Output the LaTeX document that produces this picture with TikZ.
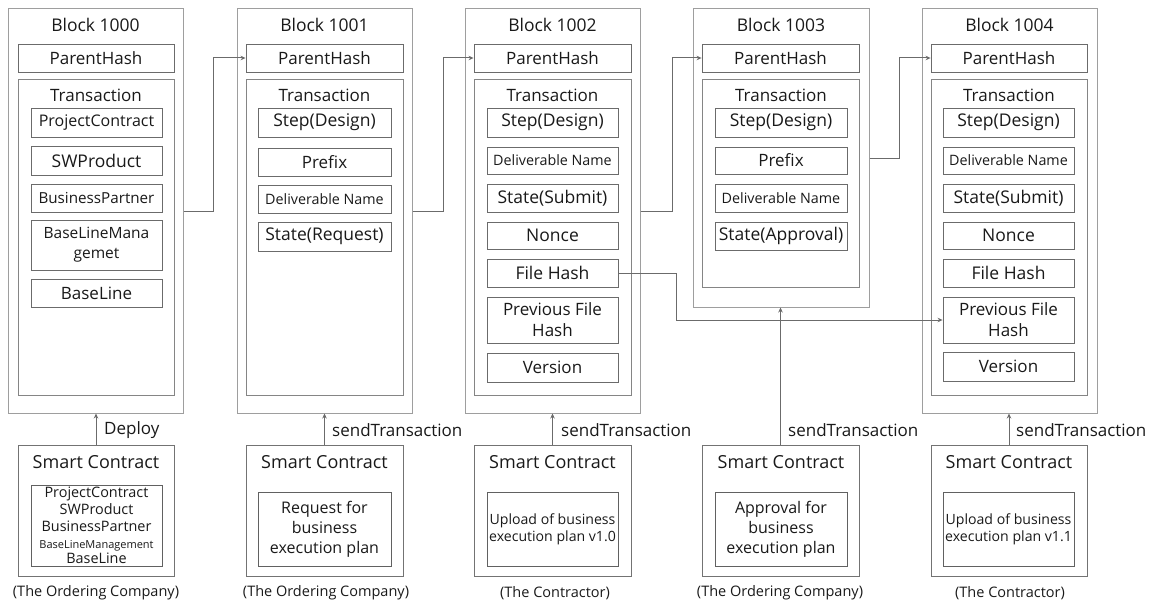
\documentclass[tikz,border=0pt]{standalone}
\usepackage{fontspec}
\setmainfont{Open Sans}
\usetikzlibrary{arrows.meta,calc}
\newcommand{\mkbox}[7]{\node[#6, minimum width={(#4-#2)*1pt}, minimum height={(#5-#3)*1pt}] (#1) at ({(#2+#4)/2},{(#3+#5)/2}) {#7};}
\newcommand{\fsz}[2]{\fontsize{#1}{#2}\selectfont}
\begin{document}
\begin{tikzpicture}[x=1pt,y=-1pt,
 every node/.style={font=\fsz{17}{20}, text=black!90},
 outerbox/.style={draw=black!38, line width=1pt, inner sep=0pt},
 tbox/.style={draw=black!48, line width=1pt, inner sep=0pt},
 itembox/.style={draw=black!58, line width=0.9pt, inner sep=0pt, align=center},
 scbox/.style={draw=black!55, line width=1pt, inner sep=0pt},
 scin/.style={draw=black!62, line width=0.9pt, inner sep=0pt, align=center},
 lbl/.style={inner sep=0pt, align=center},
 conn/.style={draw=black!58, line width=1pt},
 arr/.style={conn, -{Stealth[length=5pt,width=4.5pt]}}]
\useasboundingbox (0,0) rectangle (1158,602);

% ---------------- Block 1000
\mkbox{b0}{8}{9}{183}{413}{outerbox}{}
\node[lbl, font=\fsz{17.5}{20}] (b0t) at (95.5,25) {Block 1000};
\mkbox{b0p}{18}{44}{174}{72}{itembox}{ParentHash}
\mkbox{b0x}{18}{79}{174}{395}{tbox}{}
\node[lbl] (b0xt) at (96,95) {Transaction};
\mkbox{b0i1}{31}{108}{162}{137}{itembox,font=\fsz{16}{18}}{ProjectContract}
\mkbox{b0i2}{31}{146}{162}{175}{itembox,font=\fsz{17.5}{20}}{SWProduct}
\mkbox{b0i3}{31}{184}{162}{212}{itembox,font=\fsz{15.2}{18}}{BusinessPartner}
\mkbox{b0i4}{31}{220}{162}{270}{itembox,font=\fsz{15.5}{20}}{BaseLineMana\\gemet}
\mkbox{b0i5}{31}{279}{162}{307}{itembox}{BaseLine}

% ---------------- Block 1001
\mkbox{b1}{237}{9}{412}{413}{outerbox}{}
\node[lbl, font=\fsz{17.5}{20}] (b1t) at (324.5,25) {Block 1001};
\mkbox{b1p}{246}{44}{403}{72}{itembox}{ParentHash}
\mkbox{b1x}{246}{79}{403}{395}{tbox}{}
\node[lbl] (b1xt) at (324.5,95) {Transaction};
\mkbox{b1i1}{258}{108}{391}{137}{itembox,font=\fsz{17.5}{20}}{Step(Design)}
\mkbox{b1i2}{258}{148}{391}{176}{itembox}{Prefix}
\mkbox{b1i3}{258}{185}{391}{213}{itembox,font=\fsz{14.3}{16}}{Deliverable Name}
\mkbox{b1i4}{258}{222}{391}{251}{itembox,font=\fsz{17.5}{20}}{State(Request)}

% ---------------- Block 1002
\mkbox{b2}{465}{9}{640}{413}{outerbox}{}
\node[lbl, font=\fsz{17.5}{20}] (b2t) at (552.5,25) {Block 1002};
\mkbox{b2p}{474}{44}{631}{72}{itembox}{ParentHash}
\mkbox{b2x}{474}{79}{631}{395}{tbox}{}
\node[lbl] (b2xt) at (552.5,95) {Transaction};
\mkbox{b2i1}{487}{108}{618}{137}{itembox,font=\fsz{17.5}{20}}{Step(Design)}
\mkbox{b2i2}{487}{147}{618}{174}{itembox,font=\fsz{14.3}{16}}{Deliverable Name}
\mkbox{b2i3}{487}{184}{618}{212}{itembox,font=\fsz{17.5}{20}}{State(Submit)}
\mkbox{b2i4}{487}{222}{618}{249}{itembox,font=\fsz{17.5}{20}}{Nonce}
\mkbox{b2i5}{487}{259}{618}{287}{itembox,font=\fsz{17.5}{20}}{File Hash}
\mkbox{b2i6}{487}{297}{618}{343}{itembox,font=\fsz{17}{21}}{Previous File\\Hash}
\mkbox{b2i7}{487}{353}{618}{382}{itembox}{Version}

% ---------------- Block 1003
\mkbox{b3}{693}{9}{869}{307}{outerbox}{}
\node[lbl, font=\fsz{17.5}{20}] (b3t) at (781,25) {Block 1003};
\mkbox{b3p}{702}{44}{859}{72}{itembox}{ParentHash}
\mkbox{b3x}{702}{79}{859}{287}{tbox}{}
\node[lbl] (b3xt) at (781,95) {Transaction};
\mkbox{b3i1}{715}{108}{847}{137}{itembox,font=\fsz{17.5}{20}}{Step(Design)}
\mkbox{b3i2}{715}{147}{847}{174}{itembox}{Prefix}
\mkbox{b3i3}{715}{184}{847}{212}{itembox,font=\fsz{14.3}{16}}{Deliverable Name}
\mkbox{b3i4}{715}{222}{847}{250}{itembox,font=\fsz{17.5}{20}}{State(Approval)}

% ---------------- Block 1004
\mkbox{b4}{922}{9}{1097}{413}{outerbox}{}
\node[lbl, font=\fsz{17.5}{20}] (b4t) at (1009.5,25) {Block 1004};
\mkbox{b4p}{931}{44}{1087}{72}{itembox}{ParentHash}
\mkbox{b4x}{931}{79}{1087}{395}{tbox}{}
\node[lbl] (b4xt) at (1009,95) {Transaction};
\mkbox{b4i1}{943}{108}{1074}{137}{itembox,font=\fsz{17.5}{20}}{Step(Design)}
\mkbox{b4i2}{943}{147}{1074}{174}{itembox,font=\fsz{14.3}{16}}{Deliverable Name}
\mkbox{b4i3}{943}{184}{1074}{212}{itembox,font=\fsz{17.5}{20}}{State(Submit)}
\mkbox{b4i4}{943}{222}{1074}{249}{itembox,font=\fsz{17.5}{20}}{Nonce}
\mkbox{b4i5}{943}{259}{1074}{287}{itembox,font=\fsz{17.5}{20}}{File Hash}
\mkbox{b4i6}{943}{297}{1074}{343}{itembox,font=\fsz{17}{21}}{Previous File\\Hash}
\mkbox{b4i7}{943}{352}{1074}{381}{itembox}{Version}

% ---------------- Smart contracts
\mkbox{s0}{18}{445}{174}{576}{scbox}{}
\node[lbl, font=\fsz{18}{20}] (s0t) at (96,462) {Smart Contract};
\mkbox{s0i}{31}{485}{162}{566}{scin,font=\fsz{14.4}{17}}{ProjectContract\\SWProduct\\BusinessPartner\\{\fsz{11}{13}BaseLineManagement}\\[-2pt]BaseLine}
\node[lbl, font=\fsz{14.5}{17}] (c0) at (96,593) {(The Ordering Company)};

\mkbox{s1}{246}{445}{403}{576}{scbox}{}
\node[lbl, font=\fsz{18}{20}] (s1t) at (324.5,462) {Smart Contract};
\mkbox{s1i}{258}{492}{391}{566}{scin,font=\fsz{16}{20}}{Request for\\business\\execution plan}
\node[lbl, font=\fsz{14.5}{17}] (c1) at (326,593) {(The Ordering Company)};

\mkbox{s2}{474}{445}{631}{576}{scbox}{}
\node[lbl, font=\fsz{18}{20}] (s2t) at (552.5,462) {Smart Contract};
\mkbox{s2i}{487}{492}{618}{566}{scin,font=\fsz{14.1}{17}}{Upload of business\\execution plan v1.0}
\node[lbl, font=\fsz{14.5}{17}] (c2) at (555,593) {(The Contractor)};

\mkbox{s3}{702}{445}{859}{576}{scbox}{}
\node[lbl, font=\fsz{18}{20}] (s3t) at (781,462) {Smart Contract};
\mkbox{s3i}{715}{492}{847}{566}{scin,font=\fsz{16}{20}}{Approval for\\business\\execution plan}
\node[lbl, font=\fsz{14.5}{17}] (c3) at (780,593) {(The Ordering Company)};

\mkbox{s4}{931}{445}{1087}{576}{scbox}{}
\node[lbl, font=\fsz{18}{20}] (s4t) at (1009,462) {Smart Contract};
\mkbox{s4i}{943}{492}{1074}{566}{scin,font=\fsz{14.1}{17}}{Upload of business\\execution plan v1.1}
\node[lbl, font=\fsz{14.5}{17}] (c4) at (1010,593) {(The Contractor)};

% ---------------- send arrows
\draw[arr] (s0.north) -- (s0.north |- b0.south);
\draw[arr] (s1.north) -- (s1.north |- b1.south);
\draw[arr] (s2.north) -- (s2.north |- b2.south);
\draw[arr] (s3.north) -- (s3.north |- b3.south);
\draw[arr] (s4.north) -- (s4.north |- b4.south);
\node[lbl, anchor=west] (l0) at (104,430) {Deploy};
\node[lbl, anchor=west] (l1) at (332,430) {sendTransaction};
\node[lbl, anchor=west] (l2) at (561,430) {sendTransaction};
\node[lbl, anchor=west] (l3) at (788,430) {sendTransaction};
\node[lbl, anchor=west] (l4) at (1016,430) {sendTransaction};

% ---------------- chain connectors
\coordinate (k01) at (213,0);
\coordinate (k12) at (443,0);
\coordinate (k23) at (672,0);
\coordinate (k34) at (899,0);
\draw[arr] (b0.east) -| (k01 |- b1p.west) -- (b1p.west);
\draw[arr] (b1.east) -| (k12 |- b2p.west) -- (b2p.west);
\draw[arr] (b2.east) -| (k23 |- b3p.west) -- (b3p.west);
\draw[arr] (b3.east) -| (k34 |- b4p.west) -- (b4p.west);

% ---------------- file hash link
\coordinate (k24) at (676,0);
\draw[arr] (b2i5.east) -| (k24 |- b4i6.west) -- (b4i6.west);
\end{tikzpicture}
\end{document}
